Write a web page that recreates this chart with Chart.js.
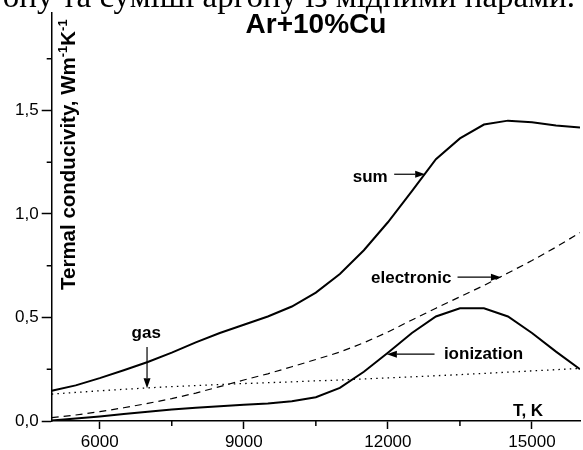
<!DOCTYPE html>
<html>
<head>
<meta charset="utf-8">
<script src="https://cdn.jsdelivr.net/npm/chart.js@4.4.1/dist/chart.umd.min.js"></script>
<style>
  html, body { margin: 0; padding: 0; background: #fff; overflow: hidden; }
  #wrap { position: relative; width: 583px; height: 450px; }
  #cap {
    position: absolute; right: 8px; top: -20px;
    font: 33px "Liberation Serif", "Times New Roman", serif;
    line-height: 1; white-space: nowrap; color: #000;
  }
</style>
</head>
<body>
<div id="wrap">
  <canvas id="chart" width="583" height="450"></canvas>
  <div id="cap">ону та суміші аргону із мідними парами.</div>
</div>
<script>
// temperature grid, K
const temps = [5000, 5500, 6000, 6500, 7000, 7500, 8000, 8500, 9000, 9500, 10000, 10500,
               11000, 11500, 12000, 12500, 13000, 13500, 14000, 14500, 15000, 15500, 16000];

// thermal conductivity components, W m^-1 K^-1
const sumK        = [0.146, 0.172, 0.207, 0.245, 0.285, 0.330, 0.380, 0.425, 0.465, 0.505, 0.553, 0.620,
                     0.710, 0.825, 0.960, 1.110, 1.265, 1.365, 1.432, 1.451, 1.443, 1.428, 1.418];
const electronicK = [0.016, 0.029, 0.045, 0.064, 0.085, 0.108, 0.135, 0.166, 0.198, 0.228, 0.262, 0.297,
                     0.333, 0.378, 0.430, 0.488, 0.545, 0.600, 0.655, 0.715, 0.775, 0.840, 0.910];
const gasK        = [0.130, 0.138, 0.146, 0.153, 0.160, 0.166, 0.171, 0.176, 0.181, 0.185, 0.189, 0.194,
                     0.198, 0.203, 0.208, 0.213, 0.219, 0.224, 0.230, 0.236, 0.242, 0.248, 0.254];
const ionizationK = [0.002, 0.012, 0.022, 0.034, 0.045, 0.055, 0.064, 0.071, 0.078, 0.084, 0.095, 0.115,
                     0.160, 0.238, 0.330, 0.425, 0.505, 0.545, 0.545, 0.505, 0.425, 0.335, 0.250];

// axis ticks
const xMajor = [6000, 9000, 12000, 15000];
const xMinor = [7500, 10500, 13500];
const yMajor = [0, 0.5, 1.0, 1.5];
const yMinor = [0.25, 0.75, 1.25, 1.75];

// arrow labels (data coordinates)
const notes = [
  { text: 'sum',        at: [11631, 1.177], from: [12131, 1.192], to: [12777, 1.192] },
  { text: 'electronic', at: [12485, 0.688], from: [13450, 0.695], to: [14354, 0.695] },
  { text: 'ionization', at: [13992, 0.323], from: [12971, 0.323], to: [11979, 0.323] },
  { text: 'gas',        at: [6969, 0.426],  from: [6985, 0.358],  to: [6985, 0.158] }
];

const SANS = '"Liberation Sans", Arial, Helvetica, sans-serif';

function pairs(ys) {
  return temps.map((t, i) => ({ x: t, y: ys[i] }));
}

function arrow(ctx, x1, y1, x2, y2) {
  const a = Math.atan2(y2 - y1, x2 - x1);
  const L = 10, W = 3.5;
  ctx.beginPath();
  ctx.moveTo(x1, y1);
  ctx.lineTo(x2 - L * Math.cos(a), y2 - L * Math.sin(a));
  ctx.stroke();
  ctx.beginPath();
  ctx.moveTo(x2, y2);
  ctx.lineTo(x2 - L * Math.cos(a) + W * Math.sin(a), y2 - L * Math.sin(a) - W * Math.cos(a));
  ctx.lineTo(x2 - L * Math.cos(a) - W * Math.sin(a), y2 - L * Math.sin(a) + W * Math.cos(a));
  ctx.closePath();
  ctx.fill();
}

const extras = {
  id: 'extras',
  afterDraw(chart) {
    const ctx = chart.ctx;
    const xs = chart.scales.x, ys = chart.scales.y;
    const area = chart.chartArea;
    ctx.save();
    ctx.strokeStyle = '#000';
    ctx.fillStyle = '#000';

    // minor ticks
    ctx.lineWidth = 1.5;
    xMinor.forEach(v => {
      const px = xs.getPixelForValue(v);
      ctx.beginPath();
      ctx.moveTo(px, area.bottom);
      ctx.lineTo(px, area.bottom + 5);
      ctx.stroke();
    });
    yMinor.forEach(v => {
      const py = ys.getPixelForValue(v);
      ctx.beginPath();
      ctx.moveTo(area.left, py);
      ctx.lineTo(area.left - 5, py);
      ctx.stroke();
    });

    // title
    ctx.font = 'bold 28px ' + SANS;
    ctx.textAlign = 'center';
    ctx.textBaseline = 'alphabetic';
    ctx.fillText('Ar+10%Cu', 316, 33);

    // x axis label
    ctx.font = 'bold 17px ' + SANS;
    ctx.textBaseline = 'middle';
    ctx.fillText('T, K', 528, 411);

    // y axis label, rotated inside plot
    ctx.save();
    ctx.translate(75, 290);
    ctx.rotate(-Math.PI / 2);
    ctx.textAlign = 'left';
    ctx.textBaseline = 'alphabetic';
    let pos = 0;
    const big = 'bold 20.5px ' + SANS, small = 'bold 13px ' + SANS;
    [['Termal conducivity, Wm', big, 0], ['-1', small, -8.5], ['K', big, 0], ['-1', small, -8.5]].forEach(p => {
      ctx.font = p[1];
      ctx.fillText(p[0], pos, p[2]);
      pos += ctx.measureText(p[0]).width;
    });
    ctx.restore();

    // arrow annotations
    ctx.font = 'bold 17px ' + SANS;
    ctx.textAlign = 'center';
    ctx.textBaseline = 'middle';
    ctx.lineWidth = 1.2;
    notes.forEach(n => {
      ctx.fillText(n.text, xs.getPixelForValue(n.at[0]), ys.getPixelForValue(n.at[1]));
      arrow(ctx, xs.getPixelForValue(n.from[0]), ys.getPixelForValue(n.from[1]),
                 xs.getPixelForValue(n.to[0]), ys.getPixelForValue(n.to[1]));
    });
    ctx.restore();
  }
};

const axisGrid = (len) => ({
  display: true, drawOnChartArea: false, drawTicks: true,
  tickLength: len, tickColor: '#000', tickWidth: 1.5, color: '#000'
});

new Chart(document.getElementById('chart'), {
  type: 'line',
  data: {
    datasets: [
      { label: 'sum', data: pairs(sumK), borderColor: '#000', borderWidth: 2 },
      { label: 'electronic', data: pairs(electronicK), borderColor: '#000', borderWidth: 1.2, borderDash: [7, 5] },
      { label: 'gas', data: pairs(gasK), borderColor: '#000', borderWidth: 1.3, borderDash: [1.5, 4.2] },
      { label: 'ionization', data: pairs(ionizationK), borderColor: '#000', borderWidth: 2 }
    ]
  },
  options: {
    responsive: false,
    animation: false,
    devicePixelRatio: 1,
    layout: { padding: { top: 12, right: 3, left: 0, bottom: 0 } },
    elements: { point: { radius: 0 }, line: { tension: 0, fill: false } },
    plugins: { legend: { display: false }, tooltip: { enabled: false } },
    scales: {
      x: {
        type: 'linear', min: 5000, max: 16000,
        afterBuildTicks: s => { s.ticks = xMajor.map(v => ({ value: v })); },
        afterFit: s => { s.height = 29; },
        grid: axisGrid(8),
        border: { display: true, color: '#000', width: 1.5 },
        ticks: { color: '#000', font: { family: SANS, size: 17 }, padding: 3,
                 maxRotation: 0, autoSkip: false, callback: v => String(v) }
      },
      y: {
        type: 'linear', min: 0, max: 1.97,
        afterBuildTicks: s => { s.ticks = yMajor.map(v => ({ value: v })); },
        afterFit: s => { s.width = 51.7; },
        grid: axisGrid(10),
        border: { display: true, color: '#000', width: 1.5 },
        ticks: { color: '#000', font: { family: SANS, size: 17 }, padding: 3,
                 callback: v => v.toFixed(1).replace('.', ',') }
      }
    }
  },
  plugins: [extras]
});
</script>
</body>
</html>
